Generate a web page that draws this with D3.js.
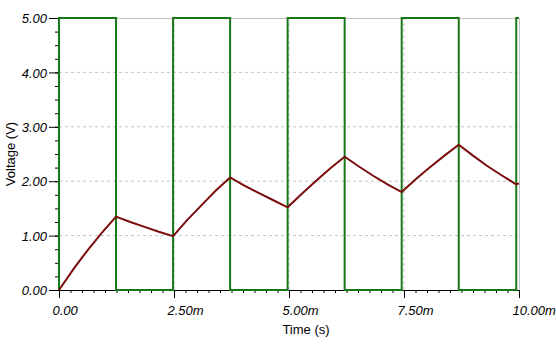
<!DOCTYPE html>
<html>
<head>
<meta charset="utf-8">
<script src="https://cdn.jsdelivr.net/npm/d3@7"></script>
<style>
  body { margin: 0; background: #fff; }
  svg { display: block; font-family: "Liberation Sans", Arial, sans-serif; }
  .tick text { font-size: 13px; font-style: italic; fill: #000; }
  .axis path, .axis line { stroke: #000; }
  .title { font-size: 13px; fill: #000; }
</style>
</head>
<body>
<div id="chart"></div>
<script>
// time in ms, voltage in V
const squareEdges = [0, 1.24, 2.48, 3.72, 4.97, 6.21, 7.45, 8.69, 9.94];
const squareLow = 0;
const squareHigh = 5;

const capTime = [0, 0.31, 0.62, 0.93, 1.24, 1.55, 1.86, 2.17, 2.48, 2.79, 3.10, 3.41, 3.72,
  4.03, 4.35, 4.66, 4.97, 5.28, 5.59, 5.90, 6.21, 6.52, 6.83, 7.14, 7.45,
  7.76, 8.07, 8.38, 8.69, 9.00, 9.31, 9.62, 9.94, 10.0];
const capVolt = [0, 0.38, 0.73, 1.05, 1.35, 1.25, 1.16, 1.07, 0.99, 1.29, 1.56, 1.83, 2.07,
  1.92, 1.78, 1.65, 1.52, 1.77, 2.01, 2.24, 2.45, 2.27, 2.10, 1.94, 1.80,
  2.04, 2.26, 2.47, 2.67, 2.47, 2.28, 2.11, 1.94, 1.96];

const xTicks = [0, 2.5, 5, 7.5, 10];
const xTickLabels = ["0.00", "2.50m", "5.00m", "7.50m", "10.00m"];
const yTicks = [0, 1, 2, 3, 4, 5];
const yTickLabels = ["0.00", "1.00", "2.00", "3.00", "4.00", "5.00"];

const W = 556, H = 348;
const margin = { top: 18, right: 37, bottom: 58, left: 59 };

const svg = d3.select("#chart").append("svg")
  .attr("width", W)
  .attr("height", H);

const x = d3.scaleLinear().domain([0, 10]).range([margin.left, W - margin.right]);
const y = d3.scaleLinear().domain([0, 5]).range([H - margin.bottom, margin.top]);

// dashed grid
svg.append("g")
  .selectAll("line")
  .data(yTicks.slice(1, -1))
  .join("line")
  .attr("x1", x(0)).attr("x2", x(10))
  .attr("y1", d => y(d)).attr("y2", d => y(d))
  .attr("stroke", "#c4c4c4")
  .attr("stroke-dasharray", "3,3");

svg.append("g")
  .selectAll("line")
  .data(xTicks.slice(1, -1))
  .join("line")
  .attr("x1", d => x(d)).attr("x2", d => x(d))
  .attr("y1", y(0)).attr("y2", y(5))
  .attr("stroke", "#c4c4c4")
  .attr("stroke-dasharray", "3,3");

// top and right border
svg.append("path")
  .attr("d", `M${x(0)},${y(5) + 0.5}H${x(10) + 0.5}V${y(0)}`)
  .attr("fill", "none")
  .attr("stroke", "#c0c0c0");

// minor ticks
svg.append("g")
  .attr("class", "axis")
  .attr("transform", `translate(0,${y(0)})`)
  .call(d3.axisBottom(x).tickValues(d3.range(0, 10.01, 0.25)).tickSize(3).tickSizeOuter(0).tickFormat(""))
  .call(g => g.select(".domain").remove());

svg.append("g")
  .attr("class", "axis")
  .attr("transform", `translate(${x(0)},0)`)
  .call(d3.axisLeft(y).tickValues(d3.range(0, 5.01, 0.25)).tickSize(4).tickSizeOuter(0).tickFormat(""))
  .call(g => g.select(".domain").remove());

// major axes
svg.append("g")
  .attr("class", "axis")
  .attr("transform", `translate(0,${y(0)})`)
  .call(d3.axisBottom(x).tickValues(xTicks).tickSize(8).tickSizeOuter(0).tickPadding(8)
    .tickFormat((d, i) => xTickLabels[i]))
  .call(g => g.selectAll("text").attr("text-anchor", "start").attr("dx", -7));

svg.append("g")
  .attr("class", "axis")
  .attr("transform", `translate(${x(0)},0)`)
  .call(d3.axisLeft(y).tickValues(yTicks).tickSize(10).tickSizeOuter(0).tickPadding(2)
    .tickFormat((d, i) => yTickLabels[i]))
  .call(g => g.selectAll("text").attr("dy", "0.36em"));

// square wave
const sqPts = [];
squareEdges.forEach((t, i) => {
  const before = i % 2 === 0 ? squareLow : squareHigh;
  const after = i % 2 === 0 ? squareHigh : squareLow;
  sqPts.push([t, before], [t, after]);
});
const lastLevel = squareEdges.length % 2 === 1 ? squareHigh : squareLow;
sqPts.push([10, lastLevel]);

const line = d3.line().x(d => x(d[0])).y(d => y(d[1]));

svg.append("path")
  .datum(sqPts)
  .attr("d", line)
  .attr("fill", "none")
  .attr("stroke", "#187818")
  .attr("stroke-width", 2);

// capacitor voltage
svg.append("path")
  .datum(capTime.map((t, i) => [t, capVolt[i]]))
  .attr("d", line)
  .attr("fill", "none")
  .attr("stroke", "#7a0c0c")
  .attr("stroke-width", 2);

// axis titles
svg.append("text")
  .attr("class", "title")
  .attr("text-anchor", "middle")
  .attr("transform", `translate(15,${(y(0) + y(5)) / 2}) rotate(-90)`)
  .text("Voltage (V)");

svg.append("text")
  .attr("class", "title")
  .attr("text-anchor", "middle")
  .attr("x", 306)
  .attr("y", 334)
  .text("Time (s)");
</script>
</body>
</html>
